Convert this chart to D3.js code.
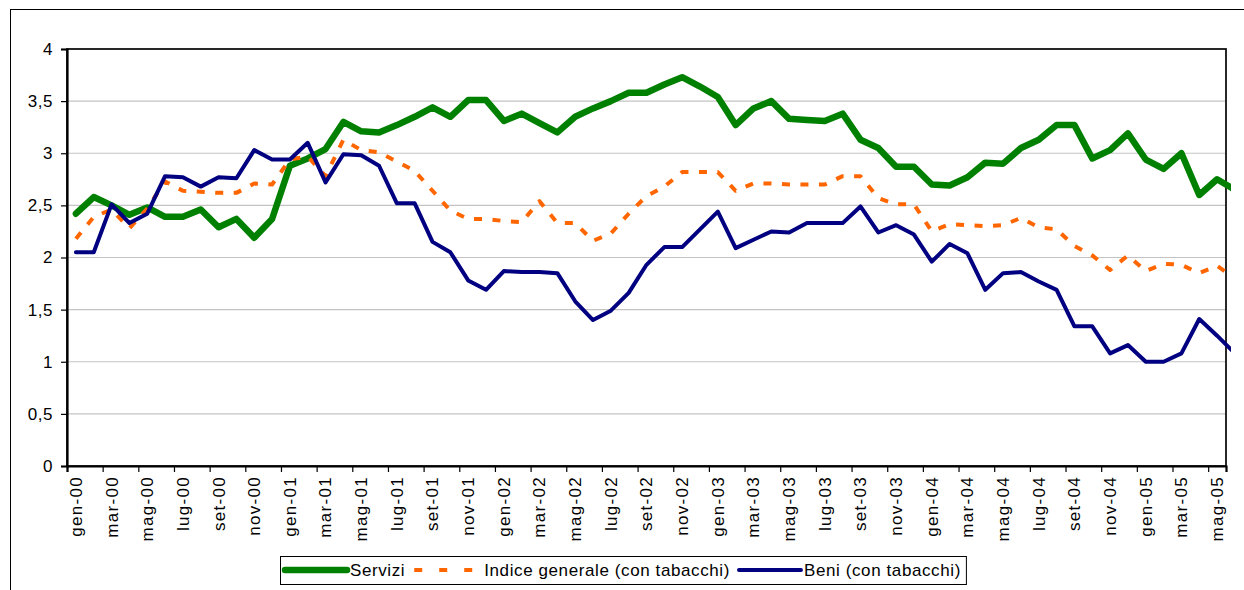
<!DOCTYPE html>
<html>
<head>
<meta charset="utf-8">
<script src="https://cdnjs.cloudflare.com/ajax/libs/d3/7.8.5/d3.min.js"></script>
<style>
  body { margin: 0; background: #fff; }
  text { font-family: "Liberation Sans", Arial, sans-serif; fill: #000; }
</style>
</head>
<body>
<div id="chart"></div>
<script>
"use strict";

// categories, one per month (the last one has no label on the axis)
var categories = [
  "gen-00","feb-00","mar-00","apr-00","mag-00","giu-00","lug-00","ago-00","set-00","ott-00","nov-00","dic-00",
  "gen-01","feb-01","mar-01","apr-01","mag-01","giu-01","lug-01","ago-01","set-01","ott-01","nov-01","dic-01",
  "gen-02","feb-02","mar-02","apr-02","mag-02","giu-02","lug-02","ago-02","set-02","ott-02","nov-02","dic-02",
  "gen-03","feb-03","mar-03","apr-03","mag-03","giu-03","lug-03","ago-03","set-03","ott-03","nov-03","dic-03",
  "gen-04","feb-04","mar-04","apr-04","mag-04","giu-04","lug-04","ago-04","set-04","ott-04","nov-04","dic-04",
  "gen-05","feb-05","mar-05","apr-05","mag-05","giu-05"
];
var axisCount = 65; // categories shown on the axis (gen-00 .. mag-05)

var servizi = [
  2.42,2.58,2.50,2.41,2.48,2.39,2.39,2.46,2.29,2.37,2.19,2.37,
  2.88,2.95,3.04,3.30,3.21,3.20,3.27,3.35,3.44,3.35,3.51,3.51,
  3.31,3.38,3.29,3.20,3.35,3.43,3.50,3.58,3.58,3.66,3.73,3.64,
  3.54,3.27,3.43,3.50,3.33,3.32,3.31,3.38,3.13,3.05,2.87,2.87,
  2.70,2.69,2.77,2.91,2.90,3.05,3.13,3.27,3.27,2.95,3.03,3.19,
  2.94,2.85,3.00,2.60,2.75,2.65
];
var indiceGenerale = [
  2.18,2.39,2.46,2.28,2.47,2.73,2.64,2.63,2.62,2.62,2.71,2.70,
  2.94,2.97,2.78,3.13,3.03,3.01,2.92,2.83,2.64,2.45,2.37,2.37,
  2.35,2.34,2.54,2.33,2.33,2.16,2.23,2.42,2.59,2.68,2.82,2.82,
  2.82,2.64,2.71,2.71,2.70,2.70,2.70,2.78,2.78,2.57,2.51,2.51,
  2.25,2.32,2.31,2.30,2.31,2.38,2.29,2.27,2.11,2.02,1.88,2.02,
  1.87,1.94,1.93,1.85,1.92,1.80
];
var beni = [
  2.05,2.05,2.51,2.33,2.42,2.78,2.77,2.68,2.77,2.76,3.03,2.94,
  2.94,3.10,2.72,2.99,2.98,2.88,2.52,2.52,2.15,2.05,1.78,1.69,
  1.87,1.86,1.86,1.85,1.58,1.40,1.49,1.66,1.93,2.10,2.10,2.27,
  2.44,2.09,2.17,2.25,2.24,2.33,2.33,2.33,2.49,2.24,2.31,2.22,
  1.96,2.13,2.04,1.69,1.85,1.86,1.77,1.69,1.34,1.34,1.08,1.16,
  1.00,1.00,1.08,1.41,1.25,1.08
];
var seriesNames = ["Servizi", "Indice generale (con tabacchi)", "Beni (con tabacchi)"];
var yTicks = [0, 0.5, 1, 1.5, 2, 2.5, 3, 3.5, 4];

// look of each series, same order as seriesNames
var seriesStyle = [
  {color: "#008000", width: 6.5, dash: null},
  {color: "#ff6600", width: 4, dash: "8,10.5", legendDash: "8,17"},
  {color: "#000080", width: 4, dash: null}
];
var seriesValues = [servizi, indiceGenerale, beni];

var width = 1244, height = 590;
var plot = {left: 67, right: 1226, top: 49, bottom: 466};

var svg = d3.select("#chart").append("svg")
  .attr("width", width)
  .attr("height", height);

// outer chart frame (runs off the picture on the right and bottom)
svg.append("rect")
  .attr("x", 10.5).attr("y", 9.5)
  .attr("width", 1260).attr("height", 600)
  .attr("fill", "#fff")
  .attr("stroke", "#000")
  .attr("stroke-width", 1);

var x = d3.scaleLinear().domain([0, axisCount]).range([plot.left, plot.right]);
var y = d3.scaleLinear().domain([0, 4]).range([plot.bottom, plot.top]);

// gridlines
svg.append("g").selectAll("line")
  .data(yTicks.filter(function(d){ return d > 0 && d < 4; }))
  .enter().append("line")
    .attr("x1", plot.left).attr("x2", plot.right)
    .attr("y1", function(d){ return y(d); })
    .attr("y2", function(d){ return y(d); })
    .attr("stroke", "#c4c4c4")
    .attr("stroke-width", 1.2);

// plot area border
svg.append("rect")
  .attr("x", plot.left).attr("y", plot.top)
  .attr("width", plot.right - plot.left)
  .attr("height", plot.bottom - plot.top)
  .attr("fill", "none")
  .attr("stroke", "#111")
  .attr("stroke-width", 1.8);

// y axis
var yAxis = svg.append("g")
  .attr("transform", "translate(" + plot.left + ",0)")
  .call(d3.axisLeft(y).tickValues(yTicks).tickSize(6).tickPadding(8)
    .tickFormat(function(d){ return String(d).replace(".", ","); }));
yAxis.select(".domain").attr("stroke-width", 2.2);
yAxis.selectAll(".tick line").attr("stroke-width", 1.2);
yAxis.selectAll("text")
  .attr("font-size", "17px")
  .attr("font-family", "Liberation Sans, Arial, sans-serif")
  .attr("letter-spacing", "0.5px");

// x axis: marks between every second category
var boundaryTicks = d3.range(0, axisCount, 2);
var xAxis = svg.append("g")
  .attr("transform", "translate(0," + plot.bottom + ")")
  .call(d3.axisBottom(x).tickValues(boundaryTicks).tickSize(6).tickFormat(""));
xAxis.select(".domain").attr("stroke-width", 2.2);
xAxis.selectAll(".tick line").attr("stroke-width", 1.2);

// x labels, rotated, at every second category centre
svg.append("g").selectAll("text")
  .data(categories.slice(0, axisCount).filter(function(d, i){ return i % 2 === 0; }))
  .enter().append("text")
    .attr("transform", function(d, i){
      return "translate(" + x(i * 2 + 0.5) + "," + (plot.bottom + 10) + ") rotate(-90)";
    })
    .attr("text-anchor", "end")
    .attr("dy", "0.35em")
    .attr("font-size", "17px")
    .attr("letter-spacing", "1.3px")
    .text(function(d){ return d; });

// lines, clipped just past the right border like the original
svg.append("clipPath").attr("id", "plotClip")
  .append("rect")
    .attr("x", plot.left - 10).attr("y", plot.top - 10)
    .attr("width", plot.right - plot.left + 15)
    .attr("height", plot.bottom - plot.top + 20);

var line = d3.line()
  .x(function(d, i){ return x(i + 0.5); })
  .y(function(d){ return y(d); });

var lines = svg.append("g").attr("clip-path", "url(#plotClip)");
seriesValues.forEach(function(values, k){
  var st = seriesStyle[k];
  lines.append("path")
    .datum(values)
    .attr("d", line)
    .attr("fill", "none")
    .attr("stroke", st.color)
    .attr("stroke-width", st.width)
    .attr("stroke-linejoin", "round")
    .attr("stroke-linecap", st.dash ? "butt" : "round")
    .attr("stroke-dasharray", st.dash);
});

// legend
var legend = svg.append("g");
var legendBox = legend.append("rect")
  .attr("fill", "#fff")
  .attr("stroke", "#000")
  .attr("stroke-width", 1);

var lx = 285, ly = 570, sample = 62;
seriesNames.forEach(function(name, k){
  var st = seriesStyle[k];
  legend.append("line")
    .attr("x1", lx).attr("x2", lx + sample)
    .attr("y1", ly).attr("y2", ly)
    .attr("stroke", st.color)
    .attr("stroke-width", st.width)
    .attr("stroke-linecap", st.dash ? "butt" : "round")
    .attr("stroke-dasharray", st.legendDash || null);
  lx += sample + (st.dash ? 8 : 3);
  var t = legend.append("text")
    .attr("x", lx).attr("y", ly)
    .attr("dy", "0.35em")
    .attr("font-size", "17px")
    .attr("letter-spacing", "0.6px")
    .text(name);
  lx += t.node().getComputedTextLength() + 9;
});

legendBox
  .attr("x", 280.5).attr("y", 556.5)
  .attr("width", lx - 280 - 4)
  .attr("height", 28);
</script>
</body>
</html>
